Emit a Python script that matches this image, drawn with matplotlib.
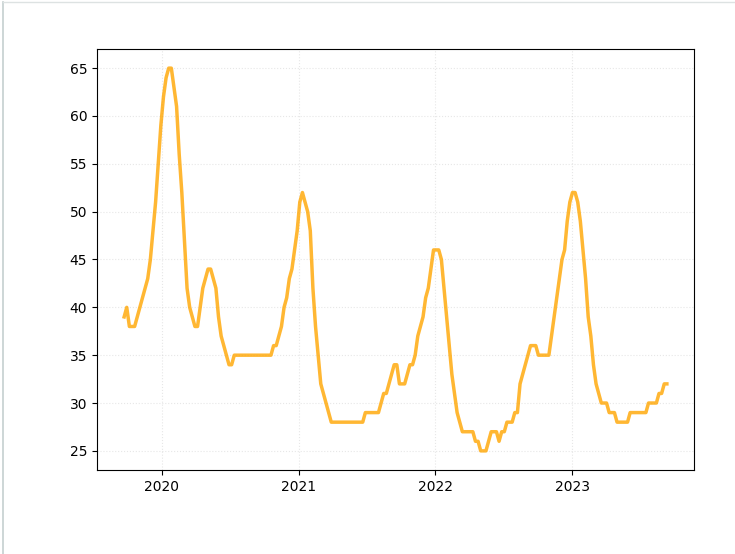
import matplotlib
matplotlib.use("Agg")
import matplotlib.pyplot as plt
import matplotlib.dates as mdates
from matplotlib.lines import Line2D
import pandas as pd

# weekly values, starting Monday 2019-09-23
start_date = "2019-09-23"
values = [
    39, 40, 38, 38, 38, 39, 40, 41, 42, 43,
    45, 48, 51, 55, 59, 62, 64, 65, 65, 63,
    61, 56, 52, 47, 42, 40, 39, 38, 38, 40,
    42, 43, 44, 44, 43, 42, 39, 37, 36, 35,
    34, 34, 35, 35, 35, 35, 35, 35, 35, 35,
    35, 35, 35, 35, 35, 35, 35, 36, 36, 37,
    38, 40, 41, 43, 44, 46, 48, 51, 52, 51,
    50, 48, 42, 38, 35, 32, 31, 30, 29, 28,
    28, 28, 28, 28, 28, 28, 28, 28, 28, 28,
    28, 28, 29, 29, 29, 29, 29, 29, 30, 31,
    31, 32, 33, 34, 34, 32, 32, 32, 33, 34,
    34, 35, 37, 38, 39, 41, 42, 44, 46, 46,
    46, 45, 42, 39, 36, 33, 31, 29, 28, 27,
    27, 27, 27, 27, 26, 26, 25, 25, 25, 26,
    27, 27, 27, 26, 27, 27, 28, 28, 28, 29,
    29, 32, 33, 34, 35, 36, 36, 36, 35, 35,
    35, 35, 35, 37, 39, 41, 43, 45, 46, 49,
    51, 52, 52, 51, 49, 46, 43, 39, 37, 34,
    32, 31, 30, 30, 30, 29, 29, 29, 28, 28,
    28, 28, 28, 29, 29, 29, 29, 29, 29, 29,
    30, 30, 30, 30, 31, 31, 32, 32,
]
dates = pd.date_range(start_date, periods=len(values), freq="7D")

fig = plt.figure(figsize=(7.35, 5.54), dpi=100)
ax = fig.add_axes([97 / 735, 84 / 554, 597 / 735, 421 / 554])

ax.plot(dates, values, color="orange", alpha=0.8, linewidth=2.5)
ax.xaxis.set_major_locator(mdates.YearLocator())
ax.xaxis.set_major_formatter(mdates.DateFormatter("%Y"))
ax.grid(True, linestyle=":", alpha=0.3)

# thin frame left over from the notebook screenshot
fig.add_artist(Line2D([0.004, 0.004], [0, 0.997], color="#c5cfcf", lw=1.2))
fig.add_artist(Line2D([0.004, 1], [0.997, 0.997], color="#dde2e2", lw=1))

fig.savefig("out.png", dpi=100)
